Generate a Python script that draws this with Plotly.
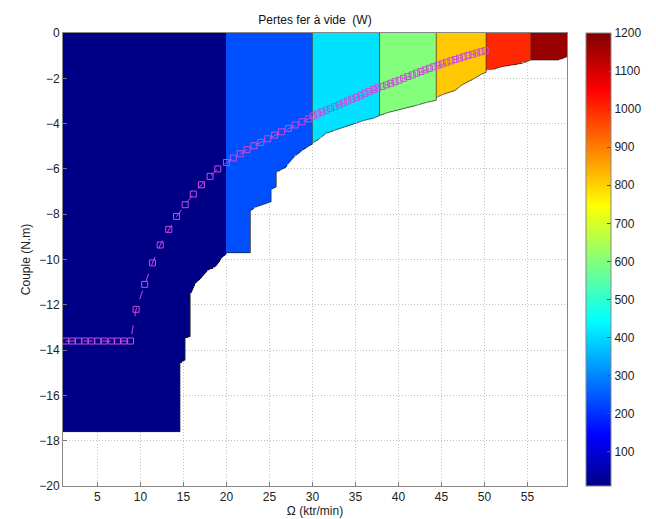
import numpy as np
import plotly.graph_objects as go

# ---------------- data ----------------
# speed bands (ktr/min) and their no-load iron losses (W)
band_edges = [1.0, 20.0, 30.0, 37.8, 44.4, 50.2, 55.4, 59.6]
band_losses = [10, 236, 410, 600, 812, 1001, 1170]

# lower torque limit of the computed map (N.m)
limit_omega = [1.0, 14.6, 14.6, 15.2, 15.2, 15.8, 15.8, 16.0, 16.3, 17.1, 17.9, 18.8, 19.4, 20.0,
               20.0, 22.8, 22.8, 23.3, 25.2, 25.2, 25.8, 25.8, 26.8, 27.8, 28.9, 30.0,
               30.0, 30.9, 31.6, 33.2, 34.4, 36.0, 37.2, 37.8,
               37.8, 38.7, 39.5, 41.0, 42.2, 43.4, 44.4,
               44.4, 45.0, 46.6, 47.4, 48.9, 49.7, 50.2,
               50.2, 51.2, 52.0, 53.9, 54.7, 55.4,
               55.4, 58.6, 59.6]
limit_torque = [-17.6, -17.6, -14.55, -14.45, -13.45, -13.4, -11.55, -11.4, -11.1, -10.8, -10.45, -10.3, -9.95, -9.75,
                -9.7, -9.7, -7.85, -7.7, -7.45, -6.9, -6.8, -6.15, -5.95, -5.5, -5.15, -4.9,
                -4.86, -4.64, -4.42, -4.22, -4.07, -3.86, -3.75, -3.64,
                -3.64, -3.52, -3.45, -3.3, -3.18, -3.05, -2.97,
                -2.85, -2.74, -2.53, -2.29, -1.99, -1.81, -1.74,
                -1.63, -1.59, -1.49, -1.37, -1.3, -1.19,
                -1.19, -1.19, -1.05]

# maximum torque characteristic (markers)
curve_omega = [1.3, 2.05, 2.8, 3.55, 4.3, 5.05, 5.8, 6.6, 7.35, 8.1, 8.85,
               9.5, 10.5, 11.4, 12.3, 13.3, 14.2, 15.2, 16.15, 17.1, 18.1, 19.0,
               20.0, 20.8, 21.6, 22.4, 23.2, 24.0, 24.8, 25.6, 26.4, 27.2, 28.0, 28.8, 29.6,
               30.1, 30.6, 31.1, 31.6, 32.1, 32.6, 33.1, 33.6, 34.1, 34.6,
               35.1, 35.6, 36.1, 36.6, 37.1, 37.6, 38.1, 38.6, 39.1, 39.6,
               40.1, 40.6, 41.1, 41.6, 42.1, 42.6, 43.1, 43.6, 44.1, 44.6,
               45.1, 45.6, 46.1, 46.6, 47.1, 47.6, 48.1, 48.6, 49.1, 49.6, 50.1]
curve_torque = [-13.6, -13.6, -13.6, -13.6, -13.6, -13.6, -13.6, -13.6, -13.6, -13.6, -13.6,
                -12.2, -11.1, -10.15, -9.36, -8.67, -8.1, -7.58, -7.11, -6.7, -6.33, -6.0,
                -5.72, -5.52, -5.33, -5.15, -4.98, -4.83, -4.67, -4.51, -4.36, -4.21, -4.06, -3.92, -3.79,
                -3.66, -3.57, -3.49, -3.41, -3.33, -3.25, -3.16, -3.08, -3.0, -2.92,
                -2.84, -2.75, -2.66, -2.58, -2.5, -2.42, -2.36, -2.29, -2.22, -2.15,
                -2.08, -2.0, -1.92, -1.85, -1.77, -1.7, -1.63, -1.56, -1.49, -1.42,
                -1.36, -1.29, -1.23, -1.17, -1.11, -1.05, -0.99, -0.94, -0.88, -0.83, -0.78]

x_ticks = [5, 10, 15, 20, 25, 30, 35, 40, 45, 50, 55]
y_ticks = [-20, -18, -16, -14, -12, -10, -8, -6, -4, -2, 0]
cbar_ticks = [100, 200, 300, 400, 500, 600, 700, 800, 900, 1000, 1100, 1200]

# ---------------- build map ----------------
om_edges = np.arange(band_edges[0], band_edges[-1] + 1e-9, 0.1)
tq_edges = np.arange(-20.0, 0.0 + 1e-9, 0.05)
om_c = 0.5 * (om_edges[:-1] + om_edges[1:])
tq_c = 0.5 * (tq_edges[:-1] + tq_edges[1:])
tmin = np.interp(om_c, limit_omega, limit_torque)
idx = np.clip(np.searchsorted(band_edges, om_c, side="right") - 1, 0, len(band_losses) - 1)
vals = np.array(band_losses, dtype=float)[idx]
Z = np.where(tq_c[:, None] >= tmin[None, :], vals[None, :], np.nan)
Z = np.where(np.isnan(Z), None, Z).tolist()

jet = [[0.0, "rgb(0,0,135)"], [0.111, "rgb(0,0,255)"], [0.365, "rgb(0,255,255)"],
       [0.619, "rgb(255,255,0)"], [0.873, "rgb(255,0,0)"], [1.0, "rgb(128,0,0)"]]

fig = go.Figure()
fig.add_trace(go.Heatmap(
    x=om_edges, y=tq_edges, z=Z, colorscale=jet, zmin=10, zmax=1200,
    hoverongaps=False,
    colorbar=dict(
        x=(578 - 55) / 504, xanchor="left", xref="paper", xpad=0,
        y=0.5, yanchor="middle", ypad=0,
        len=1.0, lenmode="fraction", thickness=25,
        outlinecolor="#888", outlinewidth=1,
        tickvals=cbar_ticks, ticks="inside", ticklen=4, tickcolor="#555",
        tickfont=dict(family="Liberation Sans, Arial", size=12, color="#222"),
    ),
))

# boundary edges (contour lines)
fig.add_trace(go.Scatter(x=limit_omega, y=limit_torque, mode="lines",
                         line=dict(color="#222", width=0.7), hoverinfo="skip", showlegend=False))
for e in band_edges[2:-1]:
    t0 = float(np.interp(e, limit_omega, limit_torque))
    fig.add_trace(go.Scatter(x=[e, e], y=[t0, 0], mode="lines",
                             line=dict(color="#333", width=0.7), hoverinfo="skip", showlegend=False))

fig.add_trace(go.Scatter(
    x=curve_omega, y=curve_torque, mode="lines+markers",
    line=dict(color="#C84BD8", width=1, dash="dash"),
    marker=dict(symbol="square-open", size=6, color="#C84BD8", line=dict(width=1)),
    showlegend=False,
))

axis_font = dict(family="Liberation Sans, Arial", size=12, color="#222")
fig.update_layout(
    width=656, height=519,
    margin=dict(l=55, r=97, t=25, b=41),
    paper_bgcolor="white", plot_bgcolor="white",
    title=dict(text="Pertes fer à vide  (W)", x=307 / 656, xanchor="center",
               y=1 - 12 / 519, yanchor="middle", yref="container",
               font=dict(family="Liberation Sans, Arial", size=12, color="#111")),
    xaxis=dict(range=[1, 59.6], tickvals=x_ticks, ticks="inside", ticklen=4, tickcolor="#777",
               showline=True, linecolor="#888", mirror=True, zeroline=False, automargin=False,
               showgrid=True, gridcolor="#c0c0c0", griddash="1px,2px", gridwidth=1,
               tickfont=axis_font,
               title=dict(text="Ω (ktr/min)", standoff=3, font=axis_font)),
    yaxis=dict(range=[-20, 0], tickvals=y_ticks, ticks="inside", ticklen=4, tickcolor="#777",
               showline=True, linecolor="#888", mirror=True, zeroline=False, automargin=False,
               showgrid=True, gridcolor="#c0c0c0", griddash="1px,2px", gridwidth=1,
               tickfont=axis_font,
               title=dict(text="Couple (N.m)", standoff=6, font=axis_font)),
)

fig.write_html("out.html")
